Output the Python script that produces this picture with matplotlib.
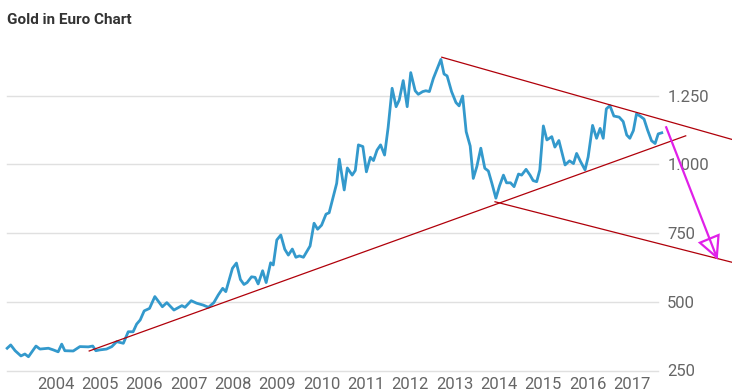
import matplotlib
matplotlib.use("Agg")
import matplotlib.pyplot as plt
from matplotlib.patches import Polygon

plt.rcParams['font.family'] = ['Roboto', 'DejaVu Sans']

# ---- data: gold price in EUR (decimal year, EUR/oz) ----
years = [2002.91, 2002.99, 2003.09, 2003.22, 2003.31, 2003.39, 2003.56, 2003.65, 2003.84, 2003.95,
         2004.06, 2004.14, 2004.21, 2004.40, 2004.55, 2004.74, 2004.84, 2004.91, 2005.00, 2005.15,
         2005.27, 2005.38, 2005.53, 2005.64, 2005.75, 2005.83, 2005.91, 2006.00, 2006.12, 2006.24,
         2006.41, 2006.51, 2006.67, 2006.85, 2006.92, 2007.06, 2007.18, 2007.33, 2007.45, 2007.57,
         2007.67, 2007.77, 2007.84, 2007.99, 2008.08, 2008.17, 2008.25, 2008.32, 2008.42, 2008.50,
         2008.57, 2008.67, 2008.75, 2008.85, 2008.91, 2008.99, 2009.08, 2009.17, 2009.25, 2009.34,
         2009.42, 2009.50, 2009.59, 2009.74, 2009.83, 2009.91, 2010.00, 2010.10, 2010.17, 2010.34,
         2010.40, 2010.51, 2010.58, 2010.69, 2010.76, 2010.83, 2010.93, 2011.01, 2011.10, 2011.17,
         2011.25, 2011.33, 2011.42, 2011.50, 2011.59, 2011.68, 2011.75, 2011.84, 2011.93, 2012.01,
         2012.11, 2012.18, 2012.28, 2012.35, 2012.43, 2012.52, 2012.69, 2012.76, 2012.83, 2012.93,
         2013.03, 2013.10, 2013.18, 2013.26, 2013.35, 2013.42, 2013.50, 2013.59, 2013.68, 2013.76,
         2013.84, 2013.93, 2014.01, 2014.10, 2014.17, 2014.26, 2014.34, 2014.44, 2014.51, 2014.61,
         2014.70, 2014.77, 2014.85, 2014.92, 2015.00, 2015.08, 2015.19, 2015.26, 2015.35, 2015.49,
         2015.59, 2015.68, 2015.75, 2015.84, 2015.94, 2016.01, 2016.11, 2016.20, 2016.28, 2016.35,
         2016.42, 2016.50, 2016.59, 2016.71, 2016.80, 2016.88, 2016.95, 2017.03, 2017.10, 2017.18,
         2017.27, 2017.35, 2017.44, 2017.52, 2017.59, 2017.67]
prices = [331, 343, 322, 303, 310, 300, 339, 328, 331, 325,
          318, 346, 322, 321, 337, 336, 339, 322, 325, 328,
          337, 355, 349, 391, 391, 419, 434, 467, 476, 519,
          482, 497, 470, 486, 480, 504, 495, 488, 480, 497,
          525, 549, 537, 622, 641, 581, 563, 570, 591, 589,
          565, 613, 570, 642, 634, 725, 743, 691, 670, 692,
          662, 667, 662, 703, 786, 764, 779, 819, 824, 931,
          1019, 907, 987, 961, 978, 1071, 1065, 973, 1026, 1014,
          1052, 1071, 1034, 1134, 1277, 1210, 1234, 1305, 1210, 1334,
          1268, 1255, 1265, 1268, 1265, 1313, 1382, 1329, 1322, 1265,
          1225, 1213, 1249, 1119, 1067, 949, 992, 1059, 986, 976,
          931, 877, 921, 961, 933, 933, 919, 965, 961, 982,
          961, 941, 937, 980, 1140, 1089, 1101, 1063, 1087, 998,
          1013, 1003, 1040, 1010, 980, 1027, 1142, 1095, 1131, 1095,
          1202, 1214, 1176, 1172, 1156, 1107, 1095, 1123, 1184, 1176,
          1165, 1125, 1086, 1076, 1111, 1115]

year_ticks = list(range(2004, 2018))
year_labels = [str(y) for y in year_ticks]
value_ticks = [250, 500, 750, 1000, 1250]
value_labels = ['250', '500', '750', '1.000', '1.250']

# hand-drawn trend lines (start/end in year, EUR)
support_x = [2004.76, 2018.21]
support_y = [321, 1104]
resist_x = [2012.71, 2019.25]
resist_y = [1390, 1091]
lower_x = [2013.91, 2019.25]
lower_y = [864, 644]
arrow_x = [2017.77, 2018.91]
arrow_y = [1135, 662]
head_x = [2018.91, 2018.53, 2018.95]
head_y = [662, 715, 743]

title = 'Gold in Euro Chart'

# ---- figure ----
W, H = 732, 392
fig = plt.figure(figsize=(W / 100, H / 100), dpi=100)
ax_l, ax_r, ax_b, ax_t = 7, 663, 370.5, 40
ax = fig.add_axes([ax_l / W, (H - ax_b) / H, (ax_r - ax_l) / W, (ax_b - ax_t) / H])

x0 = 2004 + (ax_l - 55.5) / 44.35
x1 = 2004 + (ax_r - 55.5) / 44.35
y0 = 250
y1 = 250 + (ax_b - ax_t) * 250 / 68.7
ax.set_xlim(x0, x1)
ax.set_ylim(y0, y1)

for v in value_ticks:
    ax.axhline(v, xmin=0, xmax=(658 - ax_l) / (ax_r - ax_l), color='#e0e0e0', lw=1.0, zorder=1, clip_on=False)

ax.plot(years, prices, color='#3399cc', lw=2.0, zorder=3, clip_on=False, solid_joinstyle='round')

red = '#b0000a'
for xs, ys in [(support_x, support_y), (resist_x, resist_y), (lower_x, lower_y)]:
    ax.plot(xs, ys, color=red, lw=0.9, zorder=4, clip_on=False)

mag = '#e020e8'
ax.plot(arrow_x, arrow_y, color=mag, lw=1.6, zorder=5, clip_on=False)
ax.add_patch(Polygon(list(zip(head_x, head_y)), closed=True, fill=False, edgecolor=mag, lw=1.6,
                     zorder=5, clip_on=False))

ax.set_xticks(year_ticks)
ax.set_xticklabels(year_labels)
ax.set_yticks(value_ticks)
ax.set_yticklabels(value_labels)
ax.yaxis.tick_right()
ax.tick_params(axis='both', length=0, labelsize=12, labelcolor='#666666')
ax.tick_params(axis='x', pad=5)
ax.tick_params(axis='y', pad=3)
for s in ax.spines.values():
    s.set_visible(False)

fig.text(7 / W, 1 - 24 / H, title, fontsize=11, fontweight='bold', color='#333333',
         ha='left', va='baseline')

fig.savefig('out.png', dpi=100)
